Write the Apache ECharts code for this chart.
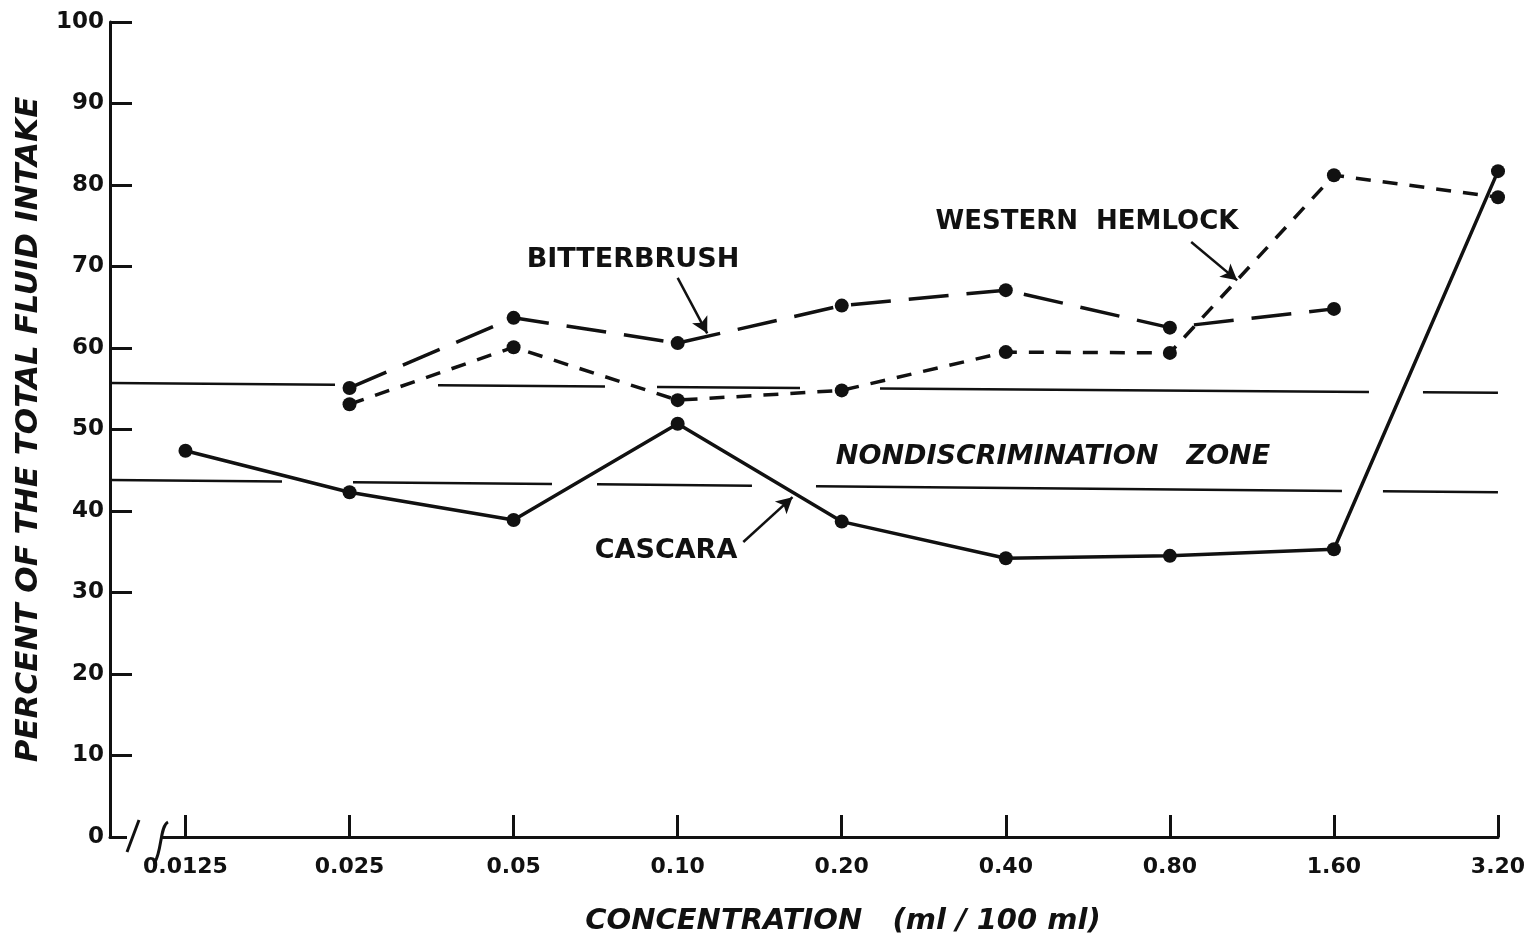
<!DOCTYPE html>
<html>
<head>
<meta charset="utf-8">
<title>Fluid intake by concentration</title>
<script src="https://cdn.jsdelivr.net/npm/echarts@6/dist/echarts.min.js"></script>
<style>
  html, body { margin: 0; padding: 0; background: #fff; }
  #chart { width: 1535px; height: 938px; }
</style>
</head>
<body>
<div id="chart"></div>
<script>
(function(){
  'use strict';

  // concentrations (ml / 100 ml), drawn at equal spacing
  const categories = ['0.0125', '0.025', '0.05', '0.10', '0.20', '0.40', '0.80', '1.60', '3.20'];
  // percent of the total fluid intake
  const cascara     = [47.4, 42.3, 38.9, 50.7, 38.7, 34.2, 34.5, 35.3, 81.7];
  const bitterbrush = [null, 55.1, 63.7, 60.6, 65.2, 67.1, 62.5, 64.8, null];
  const hemlock     = [null, 53.1, 60.1, 53.6, 54.8, 59.5, 59.4, 81.2, 78.5];
  // nondiscrimination zone limits (left end, right end)
  const zoneUpper = [55.7, 54.5];
  const zoneLower = [43.8, 42.3];
  const yTicks = [0, 10, 20, 30, 40, 50, 60, 70, 80, 90, 100];

  const X_MIN = -0.46, X_MAX = 8;
  const INK = '#111';
  const FONT = '"DejaVu Sans", sans-serif';

  function pairs(arr){
    return arr.map((v, i) => v == null ? null : [i, v]).filter(Boolean);
  }
  const idx = categories.map((c, i) => i);

  // label arrows, from text to line (data coords)
  const arrows = [
    { from: [3.00, 68.6], to: [3.18, 61.8] },
    { from: [6.13, 73.0], to: [6.41, 68.3] },
    { from: [3.40, 36.2], to: [3.70, 41.7] }
  ];

  const chart = echarts.init(document.getElementById('chart'));

  chart.setOption({
    animation: false,
    backgroundColor: '#fff',
    grid: { left: 110, right: 37, top: 22, bottom: 101, outerBoundsMode: 'none', containLabel: false },
    xAxis: {
      type: 'value',
      min: X_MIN,
      max: X_MAX,
      name: 'CONCENTRATION   (ml / 100 ml)',
      nameLocation: 'middle',
      nameGap: 70,
      nameTextStyle: { color: INK, fontFamily: FONT, fontSize: 29, fontWeight: 'bold', fontStyle: 'italic', padding: [0, 0, 0, 78] },
      splitLine: { show: false },
      axisLine: { onZero: false, lineStyle: { color: INK, width: 3 } },
      axisTick: { customValues: idx, inside: true, length: 22, lineStyle: { color: INK, width: 3 } },
      axisLabel: {
        customValues: idx,
        formatter: (v) => categories[Math.round(v)] || '',
        color: INK, fontFamily: FONT, fontSize: 22, fontWeight: 'bold', margin: 19
      }
    },
    yAxis: {
      type: 'value',
      min: 0,
      max: 100,
      interval: 10,
      name: 'PERCENT OF THE TOTAL FLUID INTAKE',
      nameLocation: 'middle',
      nameRotate: 90,
      nameGap: 66,
      nameTextStyle: { color: INK, fontFamily: FONT, fontSize: 31, fontWeight: 'bold', fontStyle: 'italic' },
      splitLine: { show: false },
      axisLine: { show: true, onZero: false, lineStyle: { color: INK, width: 3 } },
      axisTick: { inside: true, length: 22, lineStyle: { color: INK, width: 3 } },
      axisLabel: {
        customValues: yTicks,
        color: INK, fontFamily: FONT, fontSize: 23, fontWeight: 'bold', margin: 6
      }
    },
    series: [
      {
        name: 'CASCARA',
        type: 'line',
        data: pairs(cascara),
        symbol: 'circle',
        symbolSize: 14,
        itemStyle: { color: INK },
        lineStyle: { color: INK, width: 3.5 },
        markLine: {
          silent: true,
          symbol: ['none', 'none'],
          label: { show: false },
          lineStyle: { color: INK, width: 2.5, type: 'solid' },
          data: [
            [
              { coord: [X_MIN, zoneUpper[0]], lineStyle: { type: [225, 103, 167, 52, 143, 80, 489, 54, 75] } },
              { coord: [X_MAX, zoneUpper[1]] }
            ],
            [
              { coord: [X_MIN, zoneLower[0]], lineStyle: { type: [172, 71, 199, 45, 155, 64, 526, 41, 115] } },
              { coord: [X_MAX, zoneLower[1]] }
            ]
          ]
        }
      },
      {
        name: 'BITTERBRUSH',
        type: 'line',
        data: pairs(bitterbrush),
        symbol: 'circle',
        symbolSize: 14,
        itemStyle: { color: INK },
        lineStyle: { color: INK, width: 3.5, type: [40, 18] },
        markLine: {
          silent: true,
          symbol: ['none', 'arrow'],
          symbolSize: [13, 16],
          label: { show: false },
          lineStyle: { color: INK, width: 2.5, type: 'solid' },
          data: arrows.map((a) => [{ coord: a.from }, { coord: a.to }])
        }
      },
      {
        name: 'WESTERN HEMLOCK',
        type: 'line',
        data: pairs(hemlock),
        symbol: 'circle',
        symbolSize: 14,
        itemStyle: { color: INK },
        lineStyle: { color: INK, width: 3.5, type: [15, 12] }
      }
    ],
    graphic: [
      // axis break on the x axis
      { type: 'rect', z: 100, shape: { x: 127, y: 832, width: 35, height: 10 }, style: { fill: '#fff' } },
      { type: 'line', z: 101, shape: { x1: 127, y1: 852, x2: 139, y2: 820 }, style: { stroke: INK, lineWidth: 3 } },
      { type: 'bezierCurve', z: 101, shape: { x1: 155, y1: 862, x2: 168, y2: 822, cpx1: 162, cpy1: 850, cpx2: 160, cpy2: 826 }, style: { stroke: INK, lineWidth: 3, fill: 'none' } },
      // series labels
      { type: 'text', z: 101, x: 633, y: 260, style: { text: 'BITTERBRUSH', fill: INK, font: 'bold 27px ' + FONT, align: 'center', verticalAlign: 'middle' } },
      { type: 'text', z: 101, x: 1087, y: 222, style: { text: 'WESTERN  HEMLOCK', fill: INK, font: 'bold 26px ' + FONT, align: 'center', verticalAlign: 'middle' } },
      { type: 'text', z: 101, x: 666, y: 551, style: { text: 'CASCARA', fill: INK, font: 'bold 27px ' + FONT, align: 'center', verticalAlign: 'middle' } },
      { type: 'text', z: 101, x: 1053, y: 457, style: { text: 'NONDISCRIMINATION   ZONE', fill: INK, font: 'italic bold 27px ' + FONT, align: 'center', verticalAlign: 'middle' } }
    ]
  });
})();
</script>
</body>
</html>
